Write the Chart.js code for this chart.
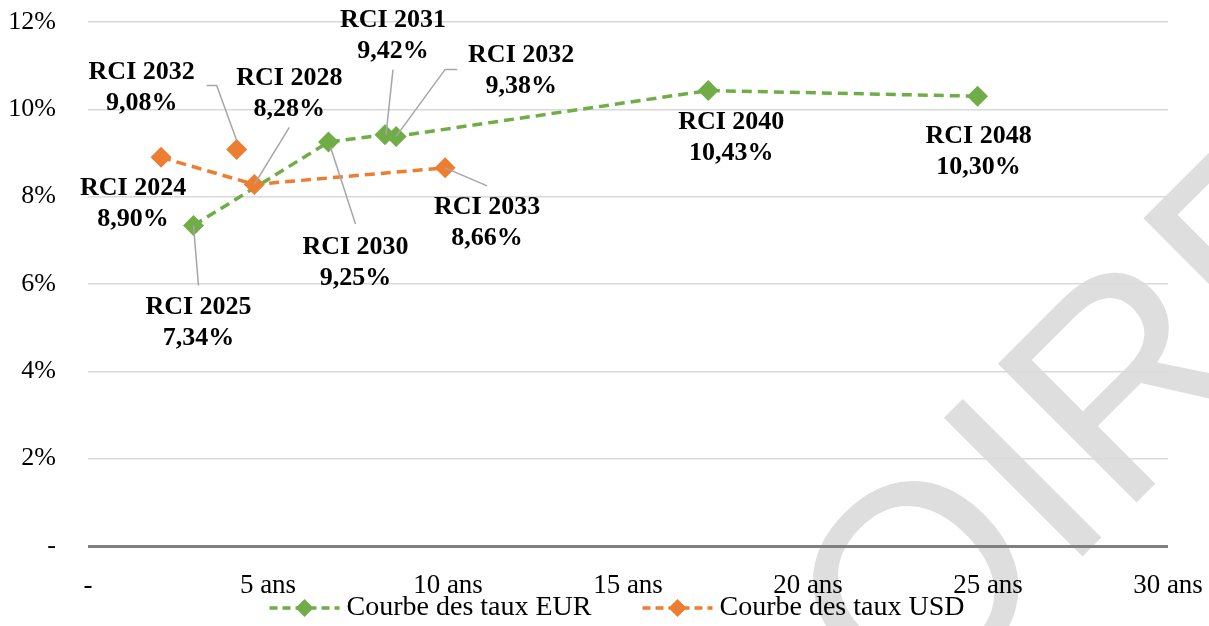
<!DOCTYPE html>
<html>
<head>
<meta charset="utf-8">
<script src="https://cdn.jsdelivr.net/npm/chart.js@4.4.1/dist/chart.umd.min.js"></script>
<style>
  html, body { margin: 0; padding: 0; background: #fff; }
  #wrap { width: 1209px; height: 626px; }
</style>
</head>
<body>
<div id="wrap"><canvas id="curveChart" width="1209" height="626"></canvas></div>
<script>
// Courbe EUR
const eurNames = ["RCI 2025", "RCI 2030", "RCI 2031", "RCI 2032", "RCI 2040", "RCI 2048"];
const eurMaturities = [2.93, 6.68, 8.25, 8.56, 17.23, 24.71];
const eurRates = [7.34, 9.25, 9.42, 9.38, 10.43, 10.30];

// Courbe USD
const usdNames = ["RCI 2024", "RCI 2028", "RCI 2033"];
const usdMaturities = [2.03, 4.62, 9.92];
const usdRates = [8.90, 8.28, 8.66];

// USD point not joined to the curve
const usdLoneNames = ["RCI 2032"];
const usdLoneMaturities = [4.13];
const usdLoneRates = [9.08];

const xTicks = [0, 5, 10, 15, 20, 25, 30];
const yTicks = [0, 2, 4, 6, 8, 10, 12];

const legendNames = ["Courbe des taux EUR", "Courbe des taux USD"];

// label placement relative to each point (offset of text centre, leader polyline)
const eurLabelLayout = [
    { dx: 5, dy: 97, leader: [[0, 0], [5, 60]] },
    { dx: 27, dy: 121, leader: [[2, 5], [27, 82]] },
    { dx: 8, dy: -99, leader: [[1, 0], [8, -65]] },
    { dx: 125, dy: -66, leader: [[0, 0], [49, -67], [61, -67]] },
    { dx: 23, dy: 47 },
    { dx: 1, dy: 56 },
];
const usdLabelLayout = [
    { dx: -28, dy: 46 },
    { dx: 35, dy: -91, leader: [[0, 0], [35, -57]] },
    { dx: 42, dy: 55, leader: [[0, 0], [42, 18]] },
];
const usdLoneLabelLayout = [
    { dx: -95, dy: -62, leader: [[0, -9], [-20, -64], [-30, -64]] },
];

const GREEN = "#70AD47";
const ORANGE = "#ED7D31";
const SERIF = '"Liberation Serif", "Times New Roman", serif';

const toPoints = (xs, ys) => xs.map((x, i) => ({ x, y: ys[i] }));
const fmtRate = v => v.toFixed(2).replace(".", ",") + "%";

// grey watermark behind the chart
const watermark = {
    id: "watermark",
    beforeDraw(chart) {
        const ctx = chart.ctx;
        ctx.save();
        ctx.fillStyle = "#fff";
        ctx.fillRect(0, 0, chart.width, chart.height);
        ctx.font = '285px "Liberation Sans", Arial, sans-serif';
        const word = "PROVISOIRE";
        const off = ctx.measureText("PROVISO").width + ctx.measureText("I").width / 2;
        ctx.translate(1092, 547);
        ctx.rotate(-Math.PI / 4);
        ctx.fillStyle = "#dedede";
        ctx.textBaseline = "alphabetic";
        ctx.fillText(word, -off, 0);
        ctx.restore();
    },
};

// data labels with leader lines
const pointLabels = {
    id: "pointLabels",
    afterDatasetsDraw(chart) {
        const ctx = chart.ctx;
        ctx.save();
        chart.data.datasets.forEach((ds, di) => {
            if (!ds.pointNames) return;
            const meta = chart.getDatasetMeta(di);
            ds.pointNames.forEach((name, i) => {
                const el = meta.data[i];
                const lay = ds.labelLayout[i];
                if (lay.leader) {
                    ctx.beginPath();
                    ctx.strokeStyle = "#a6a6a6";
                    ctx.lineWidth = 1.5;
                    lay.leader.forEach(([lx, ly], k) => {
                        if (k === 0) ctx.moveTo(el.x + lx, el.y + ly);
                        else ctx.lineTo(el.x + lx, el.y + ly);
                    });
                    ctx.stroke();
                }
            });
        });
        ctx.font = "bold 26px " + SERIF;
        ctx.fillStyle = "#000";
        ctx.textAlign = "center";
        ctx.textBaseline = "middle";
        chart.data.datasets.forEach((ds, di) => {
            if (!ds.pointNames) return;
            const meta = chart.getDatasetMeta(di);
            ds.pointNames.forEach((name, i) => {
                const el = meta.data[i];
                const lay = ds.labelLayout[i];
                const cx = el.x + lay.dx;
                const cy = el.y + lay.dy;
                ctx.fillText(name, cx, cy - 15.5);
                ctx.fillText(fmtRate(ds.data[i].y), cx, cy + 15.5);
            });
        });
        ctx.restore();
    },
};

// legend drawn by hand: dashed line with diamond, then the series name
const curveLegend = {
    id: "curveLegend",
    afterDraw(chart) {
        const ctx = chart.ctx;
        const colors = [GREEN, ORANGE];
        const lineW = 70, gapText = 7, gapItem = 51;
        ctx.save();
        ctx.font = "28px " + SERIF;
        const widths = legendNames.map(n => ctx.measureText(n).width);
        const total = widths.reduce((a, w) => a + lineW + gapText + w, 0) + gapItem;
        let x = 617 - total / 2;
        const y = 608;
        legendNames.forEach((n, i) => {
            ctx.strokeStyle = colors[i];
            ctx.lineWidth = 3.5;
            ctx.setLineDash([8, 5]);
            ctx.beginPath();
            ctx.moveTo(x, y);
            ctx.lineTo(x + lineW, y);
            ctx.stroke();
            ctx.setLineDash([]);
            const cx = x + lineW / 2;
            ctx.fillStyle = colors[i];
            ctx.beginPath();
            ctx.moveTo(cx, y - 9);
            ctx.lineTo(cx + 9, y);
            ctx.lineTo(cx, y + 9);
            ctx.lineTo(cx - 9, y);
            ctx.closePath();
            ctx.fill();
            ctx.fillStyle = "#000";
            ctx.textAlign = "left";
            ctx.textBaseline = "middle";
            ctx.fillText(n, x + lineW + gapText, y);
            x += lineW + gapText + widths[i] + gapItem;
        });
        ctx.restore();
    },
};

const lineStyle = color => ({
    showLine: true,
    borderColor: color,
    backgroundColor: color,
    borderWidth: 3.5,
    borderDash: [10, 6],
    pointStyle: "rectRot",
    pointRadius: 10.5,
    pointHoverRadius: 10.5,
    pointBorderWidth: 0,
    pointBackgroundColor: color,
});

new Chart(document.getElementById("curveChart"), {
    type: "scatter",
    data: {
        datasets: [
            {
                label: legendNames[0],
                data: toPoints(eurMaturities, eurRates),
                pointNames: eurNames,
                labelLayout: eurLabelLayout,
                order: 2,
                ...lineStyle(GREEN),
            },
            {
                label: legendNames[1],
                data: toPoints(usdMaturities, usdRates),
                pointNames: usdNames,
                labelLayout: usdLabelLayout,
                order: 1,
                ...lineStyle(ORANGE),
            },
            {
                label: "USD isolé",
                data: toPoints(usdLoneMaturities, usdLoneRates),
                pointNames: usdLoneNames,
                labelLayout: usdLoneLabelLayout,
                order: 0,
                ...lineStyle(ORANGE),
                showLine: false,
            },
        ],
    },
    options: {
        responsive: false,
        devicePixelRatio: 1,
        animation: false,
        layout: { padding: { left: 0, right: 41, top: 22, bottom: 0 } },
        plugins: {
            legend: { display: false },
            tooltip: { enabled: false },
        },
        scales: {
            x: {
                type: "linear",
                min: 0,
                max: 30,
                afterBuildTicks: scale => { scale.ticks = xTicks.map(v => ({ value: v })); },
                afterFit: scale => {
                    scale.height = 80;
                    scale.paddingLeft = 0;
                    scale.paddingRight = 0;
                },
                grid: { display: false },
                border: { display: false },
                ticks: {
                    padding: 16,
                    color: "#000",
                    font: { family: SERIF, size: 27 },
                    maxRotation: 0,
                    callback: v => (v === 0 ? "-" : v + " ans"),
                },
            },
            y: {
                type: "linear",
                min: 0,
                max: 12,
                afterBuildTicks: scale => { scale.ticks = yTicks.map(v => ({ value: v })); },
                afterFit: scale => {
                    scale.width = 88;
                    scale.paddingTop = 0;
                    scale.paddingBottom = 0;
                },
                grid: {
                    drawTicks: false,
                    color: c => (c.tick && c.tick.value === 0 ? "#808080" : "#d9d9d9"),
                    lineWidth: c => (c.tick && c.tick.value === 0 ? 3 : 1.5),
                },
                border: { display: false },
                ticks: {
                    padding: 32,
                    color: "#000",
                    font: { family: SERIF, size: 26 },
                    callback: v => (v === 0 ? "-" : v + "%"),
                },
            },
        },
    },
    plugins: [watermark, pointLabels, curveLegend],
});
</script>
</body>
</html>
